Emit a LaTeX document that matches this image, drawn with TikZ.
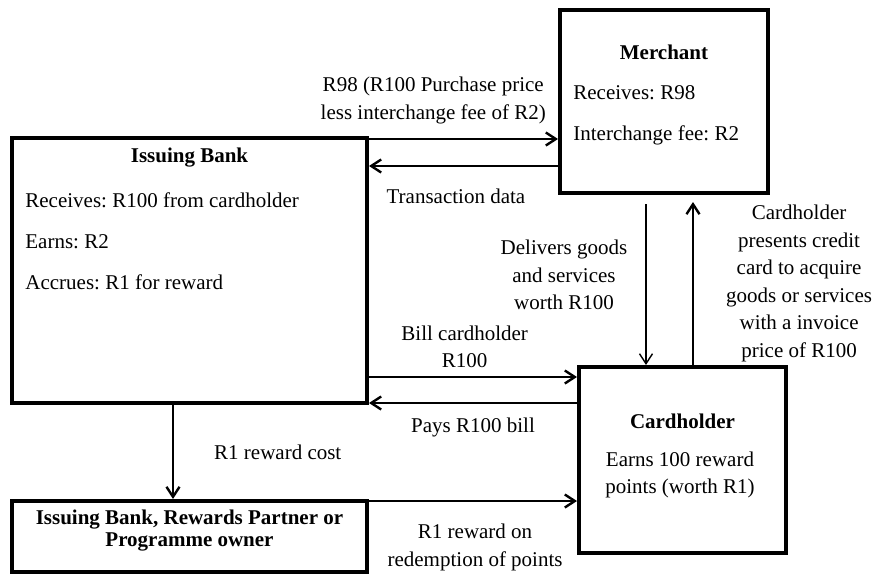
\documentclass[tikz,border=0pt]{standalone}
\usepackage{fontspec}
\setmainfont{Liberation Serif}
\usetikzlibrary{arrows.meta}
\newcommand\flowfont{\fontsize{10.5}{13.75}\selectfont}
\frenchspacing

\begin{document}
\begin{tikzpicture}[x=0.5pt,y=-0.5pt,
    every node/.style={font=\flowfont},
    box/.style={draw,line width=2pt,inner sep=0pt},
    head/.style={font=\flowfont\bfseries,inner sep=0pt},
    item/.style={anchor=west,inner sep=0pt},
    lbl/.style={align=center,inner sep=0pt},
    flow/.style={-{Straight Barb[length=5pt,width=6.5pt]},line width=1.2pt}]

    \useasboundingbox (0,0) rectangle (873,574);

    \node[box,minimum width=104pt,minimum height=91.5pt] (merchant) at (664,101.5) {};
    \node[box,minimum width=177.5pt,minimum height=132.5pt] (bank) at (189.5,270.5) {};
    \node[box,minimum width=177.5pt,minimum height=35.5pt] (reward) at (189.5,536.5) {};
    \node[box,minimum width=103.5pt,minimum height=93pt] (card) at (682.5,460) {};

    \node[head] (mtitle) at (664,52) {Merchant};
    \node[item] (mrec) at (573,93) {Receives: R98};
    \node[item] (mfee) at (573,135) {Interchange fee: R2};

    \node[head] (btitle) at (189.5,158) {Issuing Bank};
    \node[item] (brec) at (25,200) {Receives: R100 from cardholder};
    \node[item] (bearn) at (25,242) {Earns: R2};
    \node[item] (bacc) at (25,282) {Accrues: R1 for reward};

    \node[head,align=center,font=\fontsize{10.5}{11}\selectfont\bfseries] (rtitle) at (189.5,531)
         {Issuing Bank, Rewards Partner or\\Programme owner};

    \node[head] (ctitle) at (682.5,421) {Cardholder};
    \node[lbl] (cearn) at (680,475) {Earns 100 reward\\points (worth R1)};

    \draw[flow] ([yshift=-1.5pt]bank.north east) to
         node[lbl,pos=0.34,above=7pt]{R98 (R100 Purchase price\\less interchange fee of R2)}
         ([yshift=-1.5pt]bank.north east -| merchant.west);
    \draw[flow] ([yshift=-32.25pt]merchant.west) to
         node[lbl,pos=0.54,below=11pt]{Transaction data}
         ([yshift=-32.25pt]merchant.west -| bank.east);

    \draw[flow,line width=0.7pt] ([xshift=-9pt,yshift=-4.5pt]merchant.south) to
         node[lbl,pos=0.44,left=9pt]{Delivers goods\\and services\\worth R100}
         ([xshift=-9pt]merchant.south |- card.north);
    \draw[flow] ([xshift=5.25pt]card.north) to
         node[lbl,pos=0.5,right=16pt]{Cardholder\\presents credit\\card to acquire\\goods or services\\with a invoice\\price of R100}
         ([xshift=5.25pt,yshift=-3.5pt]card.north |- merchant.south);

    \draw[flow] ([yshift=-53.25pt]bank.east) to
         node[lbl,pos=0.46,above=4pt]{Bill cardholder\\R100}
         ([yshift=-53.25pt]bank.east -| card.west);
    \draw[flow] ([yshift=1pt]bank.south east -| card.west) to
         node[lbl,pos=0.5,below=7pt]{Pays R100 bill}
         ([yshift=1pt]bank.south east);

    \draw[flow] ([xshift=-8.25pt]bank.south) to
         node[lbl,pos=0.5,right=20pt]{R1 reward cost}
         ([xshift=-8.25pt]bank.south |- reward.north);
    \draw[flow] ([yshift=-1pt]reward.north east) to
         node[lbl,pos=0.51,below=11pt]{R1 reward on\\redemption of points}
         ([yshift=-1pt]reward.north east -| card.west);

  \end{tikzpicture}
\end{document}
